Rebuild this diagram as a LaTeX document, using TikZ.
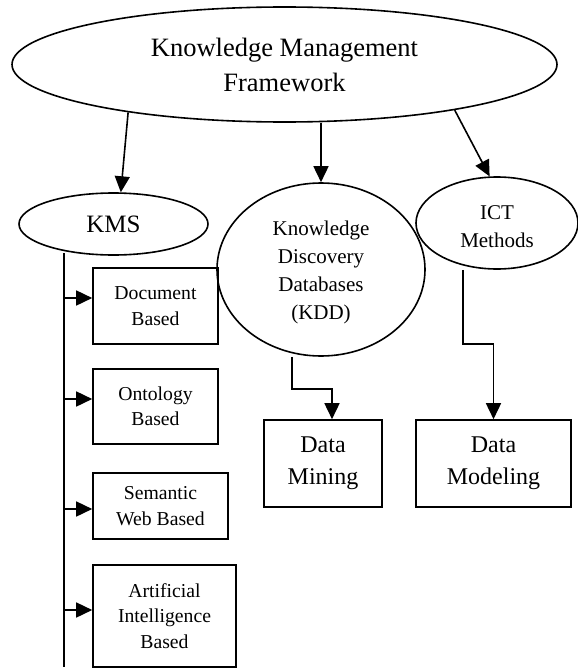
\documentclass[tikz,border=0pt]{standalone}
\usepackage{fontspec}
\setmainfont{Liberation Serif}
\usetikzlibrary{shapes.geometric,arrows.meta,calc}
\tikzset{
  ell/.style={draw, ellipse, inner sep=0pt, line width=1.6pt, align=center},
  box/.style={draw, rectangle, inner sep=0pt, line width=1.6pt, align=center},
  arr/.style={line width=1.6pt, -{Triangle[length=16pt,width=15pt]}},
  ln/.style={line width=1.6pt},
  smalltxt/.style={font=\fontsize{19.7}{25.5}\selectfont},
  midtxt/.style={font=\fontsize{21}{28}\selectfont},
  bigtxt/.style={font=\fontsize{24}{32}\selectfont}
}
\begin{document}
\begin{tikzpicture}[x=1pt,y=-1pt]
\useasboundingbox (0,0) rectangle (578,669);

% ellipses
\node[ell, minimum width=545pt, minimum height=115pt, font=\fontsize{26.5}{35}\selectfont]
  (top) at (284.5,64.5) {Knowledge Management\\Framework};
\node[ell, minimum width=189pt, minimum height=62pt, font=\fontsize{25}{30}\selectfont]
  (KMS) at (113.5,224) {KMS};
\node[ell, midtxt, minimum width=208pt, minimum height=173pt]
  (KDD) at (321,269.5) {\rule{0pt}{21pt}Knowledge\\Discovery\\Databases\\(KDD)};
\node[ell, midtxt, minimum width=162pt, minimum height=92pt]
  (ICT) at (497,223) {\rule{0pt}{22pt}ICT\\Methods};

% boxes
\node[box, smalltxt, minimum width=125pt, minimum height=76pt] (doc) at (155.5,306) {Document\\Based};
\node[box, smalltxt, minimum width=125pt, minimum height=75pt] (ont) at (155.5,406.5) {Ontology\\Based};
\node[box, smalltxt, minimum width=135pt, minimum height=66pt] (sem) at (160.5,506) {Semantic\\Web Based};
\node[box, smalltxt, minimum width=143pt, minimum height=102pt] (ai) at (164.5,616) {Artificial\\Intelligence\\Based};
\node[box, bigtxt, minimum width=118pt, minimum height=87pt] (dm) at (323,463.5) {Data\\Mining};
\node[box, bigtxt, minimum width=155pt, minimum height=87pt] (dmod) at (493.5,463.5) {Data\\Modeling};

% arrows from the framework
\draw[arr] (top.197.5) -- (KMS.77);
\draw[arr] (top.south -| KDD.north) -- (KDD.north);
\draw[arr] (top.345.1) -- (ICT.99);

% KMS spine
\coordinate (spTop) at (64,253);
\coordinate (spBot) at (64,667);
\draw[ln] (spTop) -- (spBot);
\coordinate (s1) at (64,298);
\coordinate (s2) at (64,399);
\coordinate (s3) at (64,509);
\coordinate (s4) at (64,610);
\draw[arr] (s1) -- (s1 -| doc.west);
\draw[arr] (s2) -- (s2 -| ont.west);
\draw[arr] (s3) -- (s3 -| sem.west);
\draw[arr] (s4) -- (s4 -| ai.west);

% KDD -> Data Mining
\coordinate (kb) at (292,389);
\draw[arr] (kb |- KDD.south) -- (kb) -| ($(dm.north)+(9,0)$);

% ICT -> Data Modeling
\coordinate (ib) at (463,344);
\draw[arr] (ib |- ICT.south) -- (ib) -| (dmod.north);
\end{tikzpicture}
\end{document}
